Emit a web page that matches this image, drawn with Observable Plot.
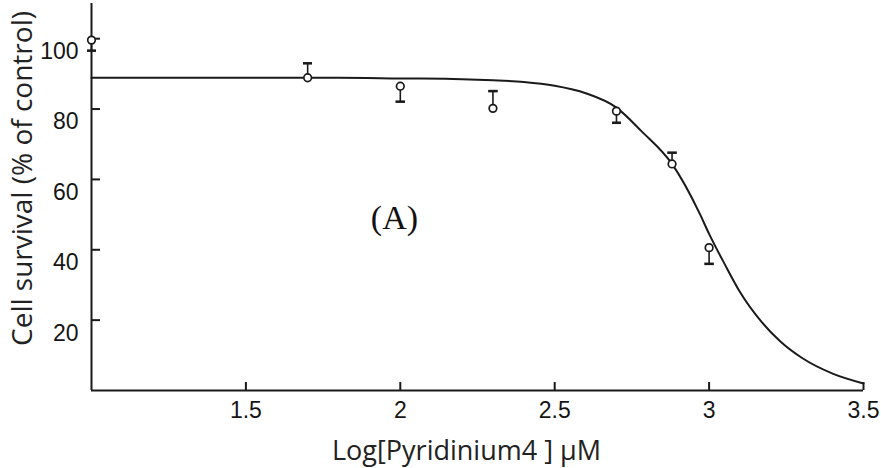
<!DOCTYPE html>
<html><head><meta charset="utf-8">
<script src="https://cdn.jsdelivr.net/npm/d3@7"></script>
<script src="https://cdn.jsdelivr.net/npm/@observablehq/plot@0.6"></script>
<style>body{margin:0;background:#fff} #chart{width:881px;height:468px}</style>
</head><body><div id="chart"></div>
<script>
// measured points (mean) with one-sided error bars
const pointX = [1.0, 1.7, 2.0, 2.3, 2.7, 2.88, 3.0];
const pointY = [99.6, 88.9, 86.5, 80.2, 79.4, 64.4, 40.6];
const errSize = [3.0, 4.1, 4.4, 4.9, 3.3, 3.2, 4.6];
const errDir = [-1, 1, -1, 1, -1, 1, -1];
// fitted curve
const curveX = [1.0, 1.5, 1.8, 2.0, 2.2, 2.3, 2.4, 2.5, 2.6, 2.7, 2.78, 2.88, 2.97, 3.0, 3.05, 3.1, 3.17, 3.23, 3.3, 3.4, 3.5];
const curveY = [88.9, 88.9, 88.9, 88.7, 88.5, 88.2, 87.7, 86.6, 84.5, 80.4, 73.8, 64.4, 50.2, 44.5, 36.0, 28.0, 19.5, 14.0, 9.3, 4.8, 2.0];
const xTicks = [1.5, 2, 2.5, 3, 3.5];
const xTickLabels = ["1.5", "2", "2.5", "3", "3.5"];
const yTicks = [20, 40, 60, 80, 100];
const yTickLabels = ["20", "40", "60", "80", "100"];
const xLabel = "Log[Pyridinium4 ] μM";
const yLabel = "Cell survival (% of control)";
const panelLabel = [{text: "(A)", x: 1.981, y: 48.9}];

const points = pointX.map((x, i) => ({x, y: pointY[i], yEnd: pointY[i] + errDir[i] * errSize[i]}));
const curve = curveX.map((x, i) => ({x, y: curveY[i]}));
const ink = "#1a1a1a";

const plot = Plot.plot({
  width: 881, height: 468,
  marginLeft: 91, marginRight: 18, marginTop: 3, marginBottom: 78,
  x: {domain: [1, 3.5]},
  y: {domain: [0, 110]},
  style: {background: "#fff", color: ink, overflow: "visible"},
  marks: [
    Plot.axisX(xTicks, {tickSize: -8, tickPadding: 19, strokeWidth: 2, tickFormat: d => xTickLabels[xTicks.indexOf(d)],
      fontSize: 23, fontFamily: "Liberation Sans", label: null, fill: "#151515"}),
    Plot.axisY(yTicks, {tickSize: -9, strokeWidth: 2, tickFormat: () => "", label: null}),
    Plot.axisY(yTicks, {tickSize: 0, tickPadding: 13, dy: 13, tickFormat: d => yTickLabels[yTicks.indexOf(d)],
      fontSize: 23, fontFamily: "Liberation Sans", label: null, fill: "#151515"}),
    Plot.ruleX([1], {stroke: ink, strokeWidth: 2}),
    Plot.ruleY([0], {stroke: ink, strokeWidth: 2}),
    Plot.line(curve, {x: "x", y: "y", curve: "monotone-x", stroke: ink, strokeWidth: 2}),
    Plot.link(points, {x1: "x", x2: "x", y1: "y", y2: "yEnd", stroke: ink, strokeWidth: 1.6, markerEnd: "tick-x"}),
    Plot.dot(points, {x: "x", y: "y", r: 3.8, stroke: ink, fill: "white", strokeWidth: 1.7}),
    Plot.text(panelLabel, {x: "x", y: "y", text: "text", fontFamily: "Liberation Serif", fontSize: 34, fill: "#111", lineAnchor: "middle"}),
    Plot.text([yLabel], {frameAnchor: "left", dx: -68.5, dy: -18.5, rotate: -90, textAnchor: "middle", fontFamily: "Open Sans", fontSize: 28, fill: "#222", lineAnchor: "middle"}),
    Plot.text([xLabel], {frameAnchor: "bottom", dx: -11, dy: 61, textAnchor: "middle", fontFamily: "Open Sans", fontSize: 27, fill: "#222", lineAnchor: "middle"})
  ]
});
document.getElementById("chart").appendChild(plot);
</script>
</body></html>
